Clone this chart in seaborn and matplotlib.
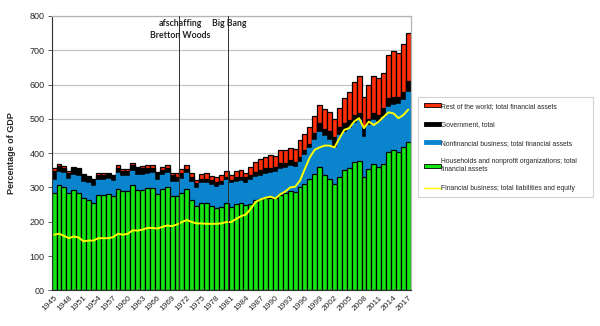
import numpy as np
import pandas as pd
import matplotlib
matplotlib.use("Agg")
import matplotlib.pyplot as plt
from matplotlib.patches import Patch
from matplotlib.lines import Line2D
import seaborn as sns

years = list(range(1945, 2018))

households = [285, 307, 302, 283, 293, 285, 268, 263, 255, 277, 277, 280, 275, 295, 289, 289, 307, 293, 293, 298,
              298, 280, 294, 300, 276, 276, 285, 294, 264, 247, 255, 255, 245, 241, 243, 256, 243, 253, 255, 248,
              252, 262, 267, 269, 270, 270, 277, 285, 291, 288, 300, 310, 326, 340, 361, 336, 326, 309, 331, 351,
              358, 373, 377, 331, 353, 367, 359, 369, 404, 409, 404, 417, 433]
nonfinancial = [38, 39, 39, 43, 43, 48, 49, 49, 49, 46, 46, 46, 44, 46, 43, 43, 42, 43, 43, 41,
                43, 42, 42, 41, 41, 41, 41, 47, 53, 50, 57, 59, 62, 61, 64, 66, 69, 64, 65, 66,
                70, 67, 66, 70, 71, 76, 77, 71, 72, 73, 75, 84, 88, 98, 101, 114, 112, 110, 122, 111,
                114, 114, 120, 117, 129, 130, 133, 137, 131, 132, 139, 138, 146]
government = [26, 16, 17, 17, 20, 20, 19, 18, 18, 13, 13, 13, 14, 15, 17, 17, 16, 20, 20, 19,
              17, 19, 15, 15, 19, 14, 17, 12, 13, 15, 14, 12, 15, 15, 13, 9, 10, 14, 11, 15,
              14, 17, 18, 17, 15, 15, 17, 15, 17, 14, 15, 15, 14, 20, 25, 20, 27, 29, 24, 25,
              25, 24, 19, 29, 19, 19, 19, 25, 25, 24, 22, 24, 31]
rest_of_world = [7, 6, 5, 6, 5, 5, 3, 3, 3, 5, 5, 4, 4, 8, 6, 6, 7, 5, 7, 7,
                 7, 5, 10, 9, 7, 10, 10, 12, 11, 11, 13, 15, 12, 14, 16, 17, 14, 17, 20, 14,
                 24, 29, 31, 34, 38, 30, 38, 38, 36, 36, 48, 46, 47, 50, 53, 59, 56, 53, 56, 75,
                 82, 97, 109, 87, 97, 109, 107, 104, 126, 133, 128, 139, 139]
financial_business = [162, 165, 159, 152, 157, 154, 143, 145, 145, 152, 152, 152, 155, 165, 162, 165, 175, 174, 177, 182,
                      182, 180, 185, 189, 187, 192, 199, 205, 199, 195, 195, 194, 194, 194, 195, 199, 199, 208, 216, 221,
                      238, 258, 265, 270, 273, 268, 280, 288, 300, 302, 320, 355, 388, 410, 417, 422, 422, 417, 443, 468,
                      473, 492, 502, 473, 492, 482, 492, 506, 519, 516, 502, 511, 527]

series_labels = ["Rest of the world; total financial assets",
                 "Government, total",
                 "Nonfinancial business; total financial assets",
                 "Households and nonprofit organizations; total\nfinancial assets",
                 "Financial business; total liabilities and equity"]
ytick_values = [0, 100, 200, 300, 400, 500, 600, 700, 800]
ytick_labels = ["00", "100", "200", "300", "400", "500", "600", "700", "800"]
events = [("afschaffing\nBretton Woods", 1970.4), ("Big Bang", 1980.4)]

c_red = "#ff2d0a"
c_black = "#000000"
c_blue = "#0a84cc"
c_green = "#14e614"
c_yellow = "#ffff00"

df = pd.DataFrame({
    "year": [str(y) for y in years],
    "households": households,
    "nonfinancial": nonfinancial,
    "government": government,
    "rest_of_world": rest_of_world,
    "financial_business": financial_business,
})
df["lvl_green"] = df["households"]
df["lvl_blue"] = df["lvl_green"] + df["nonfinancial"]
df["lvl_black"] = df["lvl_blue"] + df["government"]
df["lvl_red"] = df["lvl_black"] + df["rest_of_world"]
df["pos"] = np.arange(len(df))

sns.set_theme(style="white")
plt.rcParams["font.family"] = ["Liberation Sans", "DejaVu Sans"]

fig = plt.figure(figsize=(6.0, 3.26), dpi=100)
ax = fig.add_axes([0.086, 0.1095, 0.5985, 0.8415])

common = dict(data=df, x="year", errorbar=None, width=1.0, saturation=1, ax=ax)
sns.barplot(y="lvl_red", color=c_red, edgecolor="black", linewidth=0.9, **common)
sns.barplot(y="lvl_black", color=c_black, edgecolor="black", linewidth=0.9, **common)
sns.barplot(y="lvl_blue", color=c_blue, edgecolor=c_blue, linewidth=0.3, **common)
sns.barplot(y="lvl_green", color=c_green, edgecolor="black", linewidth=0.9, **common)
sns.lineplot(data=df, x="pos", y="financial_business", color=c_yellow, linewidth=1.4, ax=ax)

ax.set_xlim(-0.5, len(df) - 0.5)
ax.set_ylim(0, 800)
ax.set_yticks(ytick_values)
ax.set_yticklabels(ytick_labels, fontsize=6.5)
ax.set_xticks(df["pos"][::3])
ax.set_xticklabels(df["year"][::3], rotation=45, ha="right", rotation_mode="anchor", fontsize=6)
ax.tick_params(axis="y", length=3, width=0.6, color="#404040", pad=2, left=True)
ax.tick_params(axis="x", length=0, pad=3)
ax.set_xlabel("")
ax.set_ylabel("Percentage of GDP", fontsize=6.5, fontweight="bold", labelpad=10)
ax.set_axisbelow(True)
ax.yaxis.grid(True, color="#c4c4c4", linewidth=0.9)
ax.xaxis.grid(False)
for side in ["top", "right"]:
    ax.spines[side].set_color("#b4b4b4")
    ax.spines[side].set_linewidth(0.9)
for side in ["left", "bottom"]:
    ax.spines[side].set_color("#303030")
    ax.spines[side].set_linewidth(0.8)

for name, yr in events:
    xp = yr - years[0]
    ax.axvline(xp, color="#303030", linewidth=0.7, zorder=5)
    ax.text(xp + 0.3, 792, name, ha="center", va="top", fontsize=6.3,
            family=["Lato", "DejaVu Sans"], fontweight="bold", linespacing=1.45, zorder=6)

handles = [Patch(facecolor=c_red, edgecolor="black", linewidth=0.6),
           Patch(facecolor=c_black, edgecolor="black", linewidth=0.6),
           Patch(facecolor=c_blue, edgecolor=c_blue, linewidth=0.6),
           Patch(facecolor=c_green, edgecolor="black", linewidth=0.6),
           Line2D([0], [0], color=c_yellow, linewidth=1.0)]
leg = fig.legend(handles, series_labels, loc="upper left",
                 bbox_to_anchor=(0.697, 0.402, 0.291, 0.3), mode="expand",
                 fontsize=4.9, frameon=True, fancybox=False, handlelength=2.5,
                 handleheight=0.55, handletextpad=0.1, labelspacing=1.7,
                 borderpad=0.8, borderaxespad=0.0)
leg.get_frame().set_edgecolor("#c8c8c8")
leg.get_frame().set_linewidth(0.8)

fig.savefig("out.png", dpi=100)
